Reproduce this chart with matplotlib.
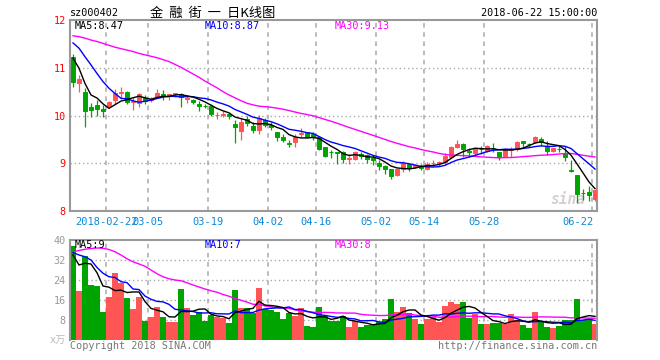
import numpy as np
import pandas as pd
import matplotlib
matplotlib.use('Agg')
import matplotlib.pyplot as plt

plt.rcParams['font.family'] = ['DejaVu Sans Mono', 'Noto Sans CJK SC']

# daily prices, 2018-02-07 .. 2018-06-22 (88 trading days)
opens = [11.23, 10.69, 10.50, 10.18, 10.21, 10.14, 10.20, 10.32, 10.48, 10.50,
         10.28, 10.27, 10.36, 10.32, 10.39, 10.46, 10.43, 10.46, 10.46, 10.34,
         10.32, 10.25, 10.20, 10.20, 10.01, 10.02, 10.03, 9.82, 9.68, 9.93,
         9.78, 9.70, 9.91, 9.81, 9.65, 9.55, 9.42, 9.44, 9.61, 9.65,
         9.62, 9.56, 9.33, 9.24, 9.23, 9.23, 9.09, 9.09, 9.20, 9.17,
         9.12, 9.01, 8.94, 8.88, 8.75, 8.88, 8.98, 8.93, 8.94, 8.89,
         9.00, 9.00, 9.02, 9.14, 9.34, 9.40, 9.26, 9.21, 9.30, 9.26,
         9.32, 9.23, 9.16, 9.28, 9.30, 9.47, 9.41, 9.44, 9.51, 9.37,
         9.26, 9.30, 9.21, 8.85, 8.75, 8.38, 8.40, 8.25]
closes = [10.71, 10.76, 10.10, 10.12, 10.14, 10.10, 10.29, 10.48, 10.50, 10.29,
          10.30, 10.45, 10.31, 10.35, 10.48, 10.41, 10.44, 10.47, 10.38, 10.36,
          10.29, 10.20, 10.19, 10.04, 10.02, 10.04, 9.99, 9.75, 9.87, 9.85,
          9.70, 9.94, 9.80, 9.75, 9.56, 9.49, 9.40, 9.56, 9.64, 9.56,
          9.54, 9.30, 9.16, 9.23, 9.22, 9.09, 9.12, 9.23, 9.16, 9.08,
          9.06, 8.95, 8.88, 8.74, 8.88, 9.00, 8.91, 8.96, 8.90, 8.98,
          9.01, 9.02, 9.16, 9.33, 9.40, 9.30, 9.23, 9.31, 9.29, 9.37,
          9.31, 9.13, 9.28, 9.30, 9.44, 9.43, 9.40, 9.54, 9.44, 9.26,
          9.31, 9.29, 9.14, 8.84, 8.35, 8.37, 8.34, 8.44]
highs = [11.28, 10.85, 10.57, 10.27, 10.32, 10.21, 10.30, 10.55, 10.60, 10.52,
         10.38, 10.48, 10.43, 10.39, 10.55, 10.53, 10.46, 10.48, 10.48, 10.43,
         10.34, 10.31, 10.25, 10.24, 10.08, 10.10, 10.06, 9.90, 9.94, 9.98,
         9.87, 10.02, 9.94, 9.86, 9.66, 9.61, 9.49, 9.61, 9.73, 9.66,
         9.66, 9.58, 9.35, 9.28, 9.24, 9.26, 9.19, 9.26, 9.23, 9.19,
         9.17, 9.07, 8.96, 8.89, 8.89, 9.05, 9.00, 8.98, 8.98, 9.02,
         9.07, 9.05, 9.21, 9.37, 9.49, 9.42, 9.31, 9.33, 9.37, 9.38,
         9.42, 9.24, 9.31, 9.33, 9.47, 9.47, 9.42, 9.57, 9.54, 9.47,
         9.31, 9.37, 9.37, 9.07, 8.75, 8.47, 8.52, 8.44]
lows = [10.60, 10.50, 9.75, 9.96, 9.99, 9.97, 10.19, 10.24, 10.34, 10.25,
        10.11, 10.18, 10.24, 10.29, 10.36, 10.32, 10.32, 10.38, 10.18, 10.27,
        10.24, 10.10, 10.15, 9.99, 9.92, 9.96, 9.92, 9.43, 9.49, 9.77,
        9.64, 9.61, 9.75, 9.69, 9.47, 9.45, 9.33, 9.35, 9.56, 9.52,
        9.49, 9.28, 9.13, 9.10, 8.98, 9.00, 8.98, 9.06, 9.09, 9.00,
        8.96, 8.86, 8.77, 8.68, 8.73, 8.82, 8.84, 8.90, 8.85, 8.86,
        8.94, 8.95, 8.98, 9.10, 9.31, 9.14, 9.14, 9.17, 9.19, 9.23,
        9.24, 9.07, 9.14, 9.14, 9.26, 9.35, 9.35, 9.42, 9.37, 9.17,
        9.23, 9.23, 9.05, 8.81, 8.16, 8.23, 8.20, 8.20]
# volume in 万 lots
volumes = [37.7, 19.6, 33.6, 22.0, 21.6, 11.2, 17.2, 26.8, 22.9, 16.8,
           12.4, 17.2, 7.6, 9.2, 13.2, 9.2, 7.2, 7.2, 20.4, 12.8,
           10.0, 11.2, 7.7, 10.0, 9.2, 8.8, 6.8, 20.0, 12.8, 12.8,
           10.9, 20.8, 12.5, 12.0, 11.2, 8.4, 10.9, 9.6, 12.8, 5.6,
           5.2, 13.2, 9.5, 7.8, 7.7, 9.6, 5.2, 7.6, 5.2, 6.0,
           6.4, 7.2, 8.4, 16.4, 11.2, 13.2, 10.8, 8.4, 6.4, 8.4,
           9.2, 7.2, 13.6, 15.2, 14.4, 15.2, 8.8, 10.4, 6.4, 6.4,
           6.8, 6.8, 6.4, 10.4, 8.0, 6.0, 4.8, 11.2, 7.6, 5.2,
           4.8, 5.6, 8.0, 8.0, 16.4, 8.0, 8.4, 6.4]

# moving averages before enough days are on the chart
ma5_head = [11.20, 10.99, 10.67, 10.43]
ma10_head = [11.52, 11.41, 11.23, 11.06, 10.88, 10.71, 10.57, 10.46, 10.36]
ma30_head = [11.67, 11.65, 11.62, 11.58, 11.55, 11.51, 11.47, 11.43, 11.40, 11.37,
             11.34, 11.30, 11.27, 11.24, 11.21, 11.17, 11.13, 11.07, 11.01, 10.94,
             10.87, 10.80, 10.72, 10.65, 10.58, 10.50, 10.43, 10.37, 10.31]
vma5_head = [34.0, 30.0, 30.7, 30.4]
vma10_head = [35.0, 34.0, 33.3, 32.0, 29.0, 26.7, 25.3, 25.0, 23.3]
vma30_head = [35.3, 35.8, 36.3, 36.6, 36.8, 36.7, 36.2, 35.3, 34.0, 32.5,
              31.3, 30.4, 29.5, 28.0, 26.5, 25.3, 24.5, 24.0, 23.7, 22.9,
              22.0, 21.2, 20.4, 19.7, 19.1, 18.2, 17.5, 16.6, 15.9]

date_idx = [6, 13, 23, 33, 41, 51, 59, 69, 87]
date_labels = ['2018-02-22', '03-05', '03-19', '04-02', '04-16',
               '05-02', '05-14', '05-28', '06-22']


def ma(vals, n, head):
    s = pd.Series(vals).rolling(n).mean().to_numpy()
    s[:len(head)] = head
    return s


RED = '#ff5555'
GREEN = '#00a400'
GRID = '#aaaaaa'
SPINE = '#999999'

n = len(closes)
x = np.arange(n)
up = np.array(closes) >= np.array(opens)
cols = [RED if u else GREEN for u in up]

fig = plt.figure(figsize=(6.6, 3.6), dpi=100)
W, H = 660, 360


def ftext(px, py, s, **kw):
    fig.text(px / W, 1 - py / H, s, **kw)


ax = fig.add_axes([70 / W, 1 - 211 / H, 527 / W, 191 / H])
vax = fig.add_axes([70 / W, 1 - 340 / H, 527 / W, 100 / H])

fs = 7.3
for a in (ax, vax):
    a.set_xlim(-0.5, 87.33)
    for s in a.spines.values():
        s.set_color(SPINE)
        s.set_linewidth(1.5)
    a.set_xticks([])
    a.tick_params(axis='y', length=0, pad=3, labelsize=fs)
    for i in date_idx:
        a.axvline(i - 0.5, color=GRID, lw=1.1, ls=(0, (3, 3)), zorder=0)
vax.spines['bottom'].set_visible(False)

# main price panel
ax.set_ylim(8, 12)
ax.set_yticks([8, 9, 10, 11, 12])
ax.set_yticklabels(['8', '9', '10', '11', '12'], color='red')
for v in [9, 10, 11]:
    ax.axhline(v, color=GRID, lw=1, ls=(0, (1, 2)), zorder=0)

ax.vlines(x, lows, highs, colors=cols, lw=0.9, zorder=2)
body_lo = np.minimum(opens, closes)
body_h = np.abs(np.array(closes) - np.array(opens))
ax.bar(x, body_h, bottom=body_lo, width=0.78, color=cols, edgecolor=cols,
       linewidth=0.7, zorder=3)

ax.plot(x, ma(closes, 30, ma30_head), color='#ff00ff', lw=1, zorder=4)
ax.plot(x, ma(closes, 10, ma10_head), color='#0000ff', lw=1, zorder=4)
ax.plot(x, ma(closes, 5, ma5_head), color='black', lw=1, zorder=4)

for i, lab in zip(date_idx, date_labels):
    ha = 'right' if i == date_idx[-1] else 'center'
    xx = i - 0.2 if ha == 'right' else i - 0.5
    ax.text(xx, -0.055, lab, transform=ax.get_xaxis_transform(), ha=ha,
            va='center', color='#0a88d8', fontsize=7.5)

ax.text(82.5, 8.25, 'sina', color='#d6d0d0', fontsize=10.5,
        style='italic', fontweight='bold', ha='center', va='center', zorder=1)

# volume panel
vax.set_ylim(0, 40)
vax.set_yticks([8, 16, 24, 32, 40])
vax.set_yticklabels(['8', '16', '24', '32', '40'], color=SPINE)
for v in [8, 16, 24, 32]:
    vax.axhline(v, color=GRID, lw=1, ls=(0, (1, 2)), zorder=0)
vax.bar(x, volumes, width=0.88, color=cols, zorder=2)
vax.plot(x, ma(volumes, 30, vma30_head), color='#ff00ff', lw=1, zorder=4)
vax.plot(x, ma(volumes, 10, vma10_head), color='#0000ff', lw=1, zorder=4)
vax.plot(x, ma(volumes, 5, vma5_head), color='black', lw=1, zorder=4)

# texts
ftext(70, 13, 'sz000402', ha='left', va='center', fontsize=fs)
ftext(213, 13, '金  融  街  一  日K线图', ha='center', va='center', fontsize=9.5,
      family=['Noto Sans CJK SC', 'DejaVu Sans'])
ftext(597, 13, '2018-06-22 15:00:00', ha='right', va='center', fontsize=fs)

ftext(75, 26, 'MA5:8.47', ha='left', va='center', fontsize=fs, color='black')
ftext(205, 26, 'MA10:8.87', ha='left', va='center', fontsize=fs, color='#0000ff')
ftext(335, 26, 'MA30:9.13', ha='left', va='center', fontsize=fs, color='#ff00ff')

ftext(75, 245.5, 'MA5:9', ha='left', va='center', fontsize=fs, color='black')
ftext(205, 245.5, 'MA10:7', ha='left', va='center', fontsize=fs, color='#0000ff')
ftext(335, 245.5, 'MA30:8', ha='left', va='center', fontsize=fs, color='#ff00ff')

ftext(66, 340, 'x万', ha='right', va='center', fontsize=7.3, color='#bbbbbb',
      family=['DejaVu Sans Mono', 'Noto Sans CJK SC'])
ftext(70, 346, 'Copyright 2018 SINA.COM', ha='left', va='center', fontsize=fs,
      color='#777777')
ftext(597, 346, 'http://finance.sina.com.cn', ha='right', va='center', fontsize=fs,
      color='#777777')

fig.savefig('out.png', dpi=100, facecolor='white')
